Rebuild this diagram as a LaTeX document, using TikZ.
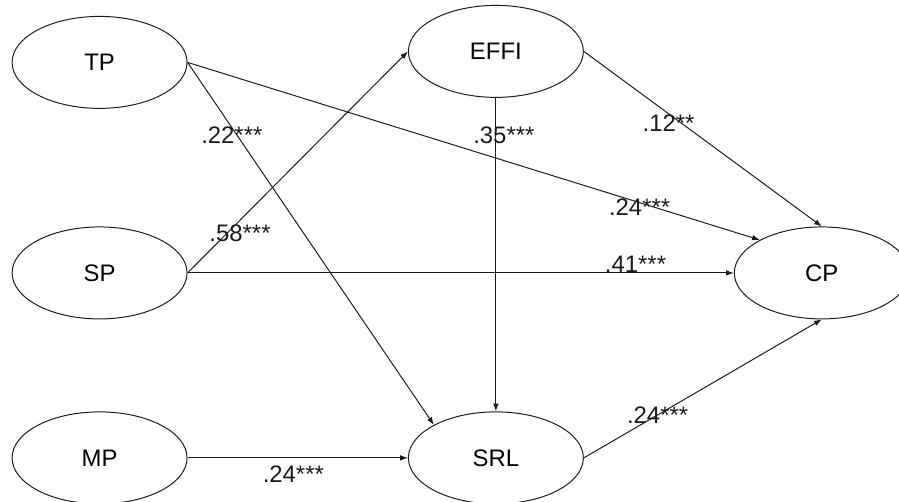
\documentclass[tikz,border=0pt]{standalone}
\usepackage{fontspec}
\setmainfont{Liberation Sans}
\usepackage{tikz}
\usetikzlibrary{shapes}
\usetikzlibrary{arrows.meta}
\usetikzlibrary{positioning}
\usepackage{xcolor}
\definecolor{myblack}{HTML}{1A1A1A}
\tikzset{node distance=2cm, every text node part/.style={align=center, font={\fontsize{17}{20}\selectfont}}}
\tikzstyle{latent} = [ellipse, draw=myblack, line width=0.7pt, minimum width=4.375cm, minimum height=2.3cm, inner sep=0pt]
\tikzstyle{ln} = [draw=myblack, line width=0.7pt, -{Latex[length=5.5pt, width=4pt]}]
\tikzstyle{coef} = [inner sep=0pt, text=myblack]

\begin{document}
\begin{tikzpicture}
    \useasboundingbox (-2.49,1.56) rectangle (19.99,-10.99);
    % Nodes
    \node[latent] (TP) {TP};
    \node[latent, below=2.94cm of TP] (SP) {SP};
    \node[latent, below=2.3cm of SP] (MP) {MP};
    \node[latent, right=5.51cm of TP, yshift=0.275cm] (EFFI) {EFFI};
    \node[latent, right=5.51cm of MP] (SRL) {SRL};
    \node[latent, right=13.66cm of SP] (CP) {CP};

    % Paths
    \draw[ln] (TP.east) -- node[coef, pos=.79, yshift=-0.1cm] {.24***} (CP.152);
    \draw[ln] (TP.east) -- node[coef, pos=.2, xshift=-0.125cm] {.22***} (SRL.152);
    \draw[ln] (SP.east) -- node[coef, pos=.18, xshift=0.32cm] {.58***} (EFFI.west);
    \draw[ln] (SP.east) -- node[coef, pos=.82, yshift=0.22cm] {.41***} (CP.west);
    \draw[ln] (EFFI.south) -- node[coef, pos=.12, xshift=0.2cm] {.35***} (SRL.north);
    \draw[ln] (EFFI.east) -- node[coef, pos=.41, xshift=-0.32cm] {.12**} (CP.north);
    \draw[ln] (MP.east) -- node[coef, pos=.48, yshift=-0.4cm] {.24***} (SRL.west);
    \draw[ln] (SRL.east) -- node[coef, pos=.31] {.24***} (CP.south);
\end{tikzpicture}
\end{document}
